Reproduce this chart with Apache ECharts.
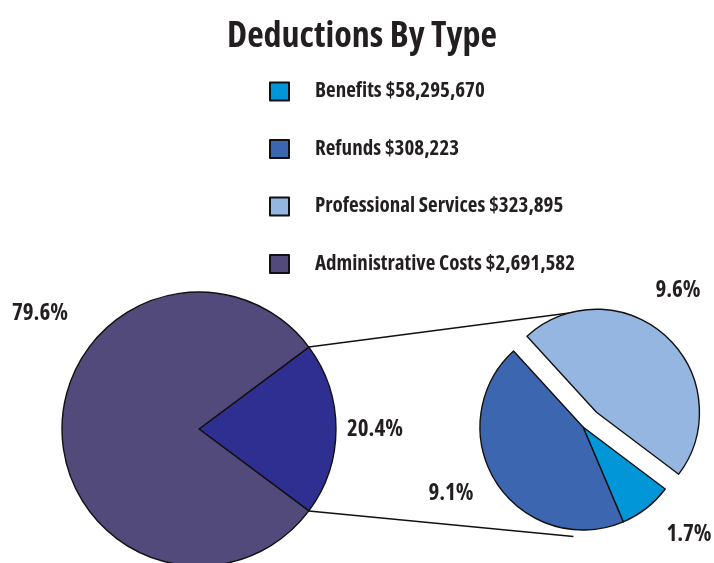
<!DOCTYPE html>
<html>
<head>
<meta charset="utf-8">
<script src="https://cdn.jsdelivr.net/npm/echarts@6/dist/echarts.min.js"></script>
<style>
html,body{margin:0;padding:0;background:#fff;}
#chart{width:714px;height:563px;}
</style>
</head>
<body>
<div id="chart"></div>
<script>
// ---- data ----
var titleText = 'Deductions By Type';
var legendNames = ['Benefits', 'Refunds', 'Professional Services', 'Administrative Costs'];
var legendAmounts = ['$58,295,670', '$308,223', '$323,895', '$2,691,582'];
var leftNames = ['Other', 'Administrative Costs'];
var leftValues = [20.4, 79.6];
var rightNames = ['Benefits', 'Refunds', 'Professional Services'];
var rightValues = [1.7, 9.1, 9.6];

// ---- style / layout ----
var FONT = "'Open Sans','Roboto Condensed',sans-serif";
var STRETCH = 'condensed';
var TXT = '#231f20';
var colors = {
  'Benefits': '#0096d8',
  'Refunds': '#3d66b0',
  'Professional Services': '#96b6e2',
  'Administrative Costs': '#514a7b',
  'Other': '#2e2f90'
};
var leftCenter = [199, 429], leftR = 137;
var rightCenter = [583, 427], rightR = 103;
var explodeOffset = 20;
var leftStart = leftValues[0] / (leftValues[0] + leftValues[1]) * 180;
var leftLabelPos = [[375, 429], [40, 313]];
var rightLabelPos = [[689, 534], [451, 493], [678, 290]];
var explodedIndex = 2;

var rightTotal = rightValues.reduce(function (a, b) { return a + b; }, 0);
var rightStart = -37;

function pct(v) { return v.toFixed(1) + '%'; }

function mkData(names, values, selIdx) {
  return names.map(function (n, i) {
    var d = {
      name: n, value: values[i], selected: i === selIdx,
      itemStyle: { color: colors[n], borderColor: '#111', borderWidth: 1.4 }
    };
    if (i === selIdx) d.label = { show: false };
    return d;
  });
}

var chart = echarts.init(document.getElementById('chart'));

function pt(c, r, deg) {
  var a = deg * Math.PI / 180;
  return [c[0] + r * Math.cos(a), c[1] - r * Math.sin(a)];
}
var profStart = rightStart - (rightValues[0] + rightValues[1]) / rightTotal * 360;
var profMid = profStart - rightValues[2] / rightTotal * 180;
var explodedCenter = pt(rightCenter, explodeOffset, profMid);
var topA = pt(leftCenter, leftR, leftStart);
var botA = pt(leftCenter, leftR, -leftStart);
var topB = pt(explodedCenter, rightR - 1, 101);
var botB = pt(rightCenter, rightR + 7, -95);

var labelFont = { fontFamily: FONT, fontStyle: STRETCH, fontSize: 23, fontWeight: 'bold' };

var option = {
  backgroundColor: '#fff',
  animation: false,
  title: {
    text: titleText, left: 227, top: 19, padding: 0,
    textStyle: { fontFamily: FONT, fontStyle: STRETCH, fontSize: 36, fontWeight: 'bold', color: TXT }
  },
  legend: {
    orient: 'vertical', left: 269, top: 81, padding: 0,
    data: legendNames, selectedMode: false,
    icon: 'rect', itemWidth: 19, itemHeight: 18, itemGap: 36.5,
    formatter: function (name) {
      return name + ' ' + legendAmounts[legendNames.indexOf(name)];
    },
    textStyle: { fontFamily: FONT, fontStyle: STRETCH, fontSize: 21, fontWeight: 'bold', color: TXT, padding: [0, 0, 0, 21] }
  },
  graphic: [
    { type: 'line', shape: { x1: topA[0], y1: topA[1], x2: topB[0], y2: topB[1] }, style: { stroke: '#111', lineWidth: 1.5 }, z: 0 },
    { type: 'line', shape: { x1: botA[0], y1: botA[1], x2: botB[0], y2: botB[1] }, style: { stroke: '#111', lineWidth: 1.5 }, z: 0 },
    {
      type: 'text', x: rightLabelPos[explodedIndex][0], y: rightLabelPos[explodedIndex][1], z: 5,
      style: Object.assign({ text: pct(rightValues[explodedIndex]), fill: TXT, align: 'center', verticalAlign: 'middle' }, labelFont)
    }
  ],
  series: [
    {
      type: 'pie', center: leftCenter, radius: leftR, startAngle: leftStart,
      clockwise: true, avoidLabelOverlap: false, silent: true,
      data: mkData(leftNames, leftValues, -1),
      label: Object.assign({ show: true, position: 'outside', color: TXT, formatter: function (p) { return pct(p.value); } }, labelFont),
      labelLine: { show: false },
      labelLayout: function (p) {
        var q = leftLabelPos[p.dataIndex];
        return { x: q[0], y: q[1], align: 'center', verticalAlign: 'middle' };
      }
    },
    {
      type: 'pie', center: rightCenter, radius: rightR, startAngle: rightStart,
      clockwise: true, avoidLabelOverlap: false, silent: true,
      selectedMode: 'single', selectedOffset: explodeOffset,
      data: mkData(rightNames, rightValues, explodedIndex),
      label: Object.assign({ show: true, position: 'outside', color: TXT, formatter: function (p) { return pct(p.value); } }, labelFont),
      labelLine: { show: false },
      labelLayout: function (p) {
        var q = rightLabelPos[p.dataIndex];
        return { x: q[0], y: q[1], align: 'center', verticalAlign: 'middle' };
      }
    }
  ]
};
chart.setOption(option);
</script>
</body>
</html>
